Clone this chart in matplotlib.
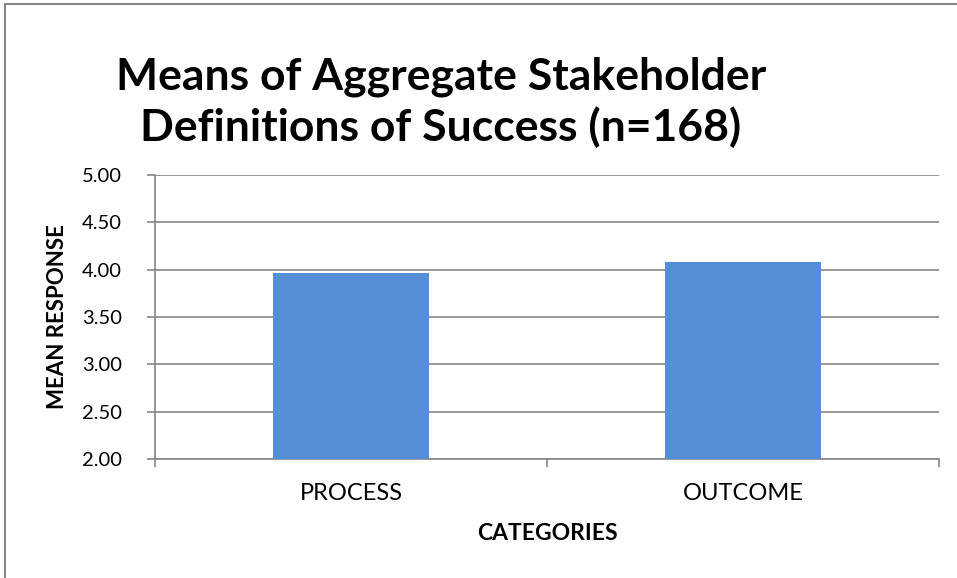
import matplotlib.pyplot as plt
from matplotlib.patches import Rectangle

categories = ['PROCESS', 'OUTCOME']
means = [3.97, 4.08]
yticks = [2.0, 2.5, 3.0, 3.5, 4.0, 4.5, 5.0]

plt.rcParams['font.family'] = ['Lato', 'DejaVu Sans']

fig = plt.figure(figsize=(9.57, 5.78), dpi=100)
# outer chart frame (cut off at right and bottom)
fig.patches.append(Rectangle((5 / 957, -0.1), 1.1, 1.1 - 4 / 578, transform=fig.transFigure,
                             fill=False, edgecolor='#868686', linewidth=1.5))

ax = fig.add_axes([155 / 957, 1 - 459 / 578, 784 / 957, 284 / 578])
x = list(range(len(categories)))
ax.bar(x, means, width=0.40, color='#558ed5', zorder=3)

ax.set_ylim(2, 5)
ax.set_xlim(-0.5, len(categories) - 0.5)
ax.set_yticks(yticks)
ax.set_yticklabels([f'{v:.2f}' for v in yticks], fontsize=14.5)
ax.yaxis.grid(True, color='#868686', linewidth=1.2, zorder=0)
ax.set_axisbelow(True)

ax.set_xticks(x)
ax.set_xticklabels(categories, fontsize=17)
ax.tick_params(axis='x', length=0, pad=17)
ax.set_xticks([-0.5, 0.5, 1.5], minor=True)
ax.tick_params(axis='x', which='minor', length=6, color='#868686', width=1.2)
ax.tick_params(axis='y', length=6, color='#868686', width=1.2, pad=18)

for side in ['top', 'right']:
    ax.spines[side].set_visible(False)
for side in ['left', 'bottom']:
    ax.spines[side].set_color('#868686')
    ax.spines[side].set_linewidth(1.2)

ax.set_xlabel('CATEGORIES', fontsize=16.5, fontweight='bold', labelpad=14)
ax.set_ylabel('MEAN RESPONSE', fontsize=16, fontweight='bold', labelpad=10)

fig.text(441 / 957, 1 - 102 / 578, 'Means of Aggregate Stakeholder\nDefinitions of Success (n=168)',
         ha='center', va='center', fontsize=32, fontweight='bold', linespacing=1.28)

fig.savefig('out.png', dpi=100)
